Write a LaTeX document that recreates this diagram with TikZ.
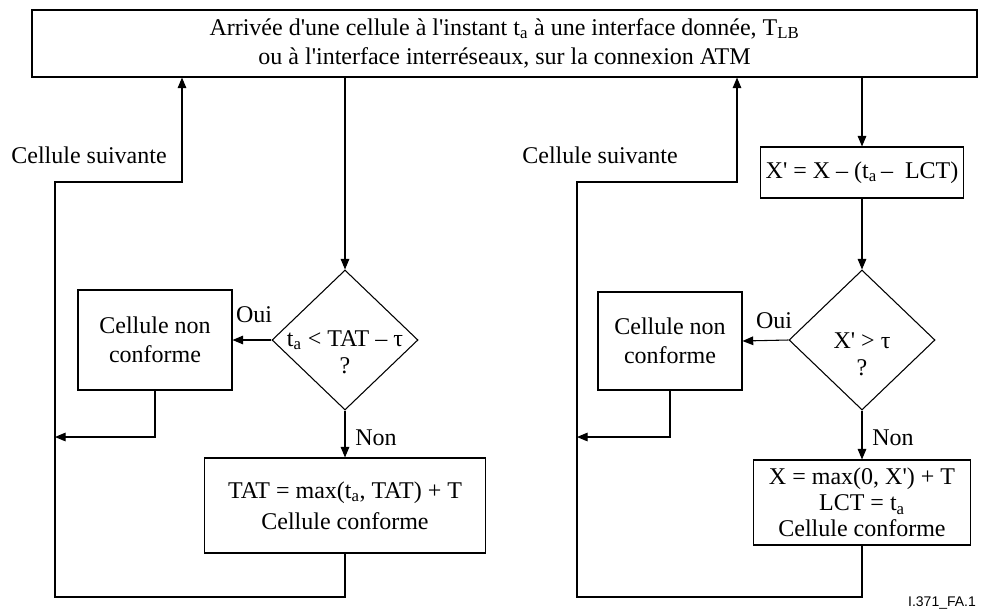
\documentclass[tikz,border=0pt]{standalone}
\usepackage{fontspec}
\setmainfont{Liberation Serif}[Ligatures=TeXOff]
\newfontfamily\labelfont{Liberation Sans}
\usetikzlibrary{arrows.meta,shapes.geometric}

\begin{document}
\begin{tikzpicture}[x=0.75pt, y=-0.75pt, line width=0.8pt,
        every node/.style={font={\fontsize{18}{22}\selectfont}, align=center},
        box/.style={draw, inner sep=0pt},
        decision/.style={draw, diamond, inner sep=0pt, minimum width=109.5pt, minimum height=105pt},
        arrow/.style={-{Triangle[length=8pt, width=6.5pt]}}]
        \useasboundingbox (0,0) rectangle (981,615);

        \node[box, minimum width=708.75pt, minimum height=50.25pt] (arr) at (504.5,43.5) {Arrivée d'une cellule à l'instant t\textsubscript{a} à une interface donnée, T\textsubscript{LB}\\ou à l'interface interréseaux, sur la connexion ATM};

        \node[decision] (d1) at (345,340) {};
        \node[font={\fontsize{18}{20}\selectfont}] (q1) at (345,352) {t\textsubscript{a} < TAT – τ\\?};
        \node[box, minimum width=115.5pt, minimum height=75pt] (nc1) at (155,340) {Cellule non\\conforme};
        \node[box, minimum width=210.75pt, minimum height=71.25pt, font={\fontsize{18}{23}\selectfont}] (tat) at (345,505.5) {TAT = max(t\textsubscript{a}, TAT) + T\\Cellule conforme};
        \node (oui1) at (254,315) {Oui};
        \node (non1) at (376,438) {Non};
        \node (next1) at (89,155) {Cellule suivante};

        \node[box, minimum width=152.25pt, minimum height=38.25pt] (xp) at (862,172.5) {X' = X – (t\textsubscript{a}\,–\ \ LCT)};
        \node[decision] (d2) at (862,340) {};
        \node[font={\fontsize{18}{20}\selectfont}] (q2) at (862,354) {X' > τ\\?};
        \node[box, minimum width=108pt, minimum height=73.5pt] (nc2) at (670,341) {Cellule non\\conforme};
        \node[box, minimum width=162.75pt, minimum height=63.75pt, font={\fontsize{18}{19.5}\selectfont}] (xm) at (862,502.5) {X = max(0, X') + T\\LCT = t\textsubscript{a}\\Cellule conforme};
        \node (oui2) at (774,321) {Oui};
        \node (non2) at (893,438) {Non};
        \node (next2) at (600,155) {Cellule suivante};

        \node[font={\labelfont\fontsize{10.5}{12}\selectfont}] (fig) at (942,603) {I.371\_FA.1};

        \coordinate (m1) at (55,437);
        \coordinate (b1) at (55,597);
        \coordinate (u1) at (182,182);
        \coordinate (m2) at (577,437);
        \coordinate (b2) at (577,597);
        \coordinate (u2) at (737,182);

        \draw[arrow] (arr.south -| d1) -- (d1.north);
        \draw[arrow] (d1.west) -- (nc1.east);
        \draw[arrow] (d1.south) -- (tat.north);
        \draw[arrow] (nc1.south) |- (m1);
        \draw[arrow] (tat.south) |- (b1) |- (u1) -- (u1 |- arr.south);

        \draw[arrow] (arr.south -| xp) -- (xp.north);
        \draw[arrow] (xp.south) -- (d2.north);
        \draw[arrow] (d2.west) -- (nc2.east);
        \draw[arrow] (d2.south) -- (xm.north);
        \draw[arrow] (nc2.south) |- (m2);
        \draw[arrow] (xm.south) |- (b2) |- (u2) -- (u2 |- arr.south);
\end{tikzpicture}
\end{document}
